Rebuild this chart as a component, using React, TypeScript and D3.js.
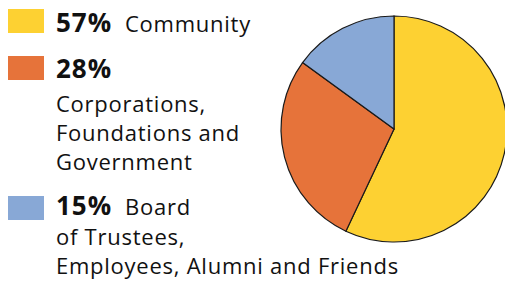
import React, { useRef, useEffect } from 'react';
import * as d3 from 'd3';

const categories = ['Community', 'Corporations, Foundations and Government', 'Board of Trustees, Employees, Alumni and Friends'];
const values = [57, 28, 15];
const colors = ['#FDD132', '#E6733A', '#88A8D6'];
// legend text: bold percent, then lines of label (first line may follow the percent)
const legendLines = [
    [['57%', 'Community']],
    [['28%', ''], ['', 'Corporations,'], ['', 'Foundations and'], ['', 'Government']],
    [['15%', 'Board'], ['', 'of Trustees,'], ['', 'Employees, Alumni and Friends']],
];

const W = 505, H = 284;

const App = () => {
    const svgRef = useRef(null);

    useEffect(() => {
        const svg = d3.select(svgRef.current);
        svg.selectAll('*').remove();

        const pie = d3.pie().sort(null).value(d => d)(values);
        const arc = d3.arc().innerRadius(0).outerRadius(113);

        const g = svg.append('g').attr('transform', 'translate(394,129)');
        g.selectAll('path')
            .data(pie)
            .enter().append('path')
            .attr('d', arc)
            .attr('fill', (d, i) => colors[i])
            .attr('stroke', '#1a1a1a')
            .attr('stroke-width', 1.2);

        // legend
        const swatchY = [9, 56, 196];
        const firstBaseline = [32, 77.5, 215];
        const lineGap = 29.2;

        const legend = svg.append('g').attr('font-family', '"Open Sans", sans-serif').attr('fill', '#111');
        categories.forEach((c, i) => {
            legend.append('rect')
                .attr('x', 8).attr('y', swatchY[i])
                .attr('width', 36).attr('height', 24)
                .attr('fill', colors[i]);
            legendLines[i].forEach((ln, j) => {
                const y = firstBaseline[i] + (j === 0 ? 0 : (i === 1 ? 34 : 30) + (j - 1) * lineGap);
                if (ln[0]) {
                    legend.append('text').attr('x', 56).attr('y', y)
                        .attr('font-weight', 'bold').attr('font-size', 26).attr('letter-spacing', 1)
                        .text(ln[0]);
                }
                if (ln[1]) {
                    legend.append('text').attr('x', ln[0] ? 125 : 56).attr('y', y)
                        .attr('font-size', 22).attr('letter-spacing', 0.75)
                        .text(ln[1]);
                }
            });
        });
    }, []);

    return (
        <svg ref={svgRef} width={W} height={H}
            style={{ position: 'absolute', left: 0, top: 0, background: '#fff' }} />
    );
};

export default App;
